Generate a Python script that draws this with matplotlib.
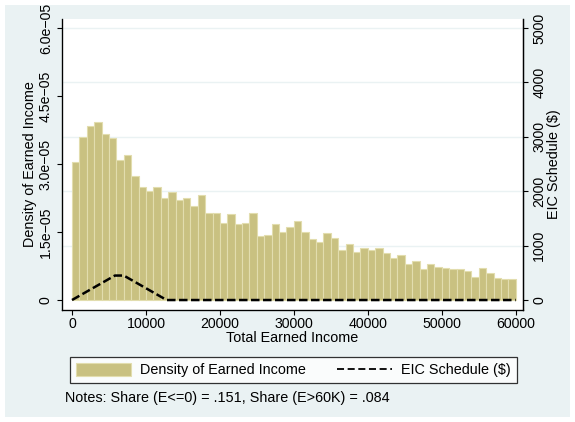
import numpy as np
import matplotlib.pyplot as plt
from matplotlib.patches import Rectangle
from matplotlib.lines import Line2D

plt.rcParams['font.family'] = ['Liberation Sans', 'DejaVu Sans']
plt.rcParams['font.size'] = 10.4

# density of earned income, $1000 bins from 0 to 60000 (units of 1e-5)
bin_left = np.arange(0, 60000, 1000)
density = np.array([
    3.04, 3.59, 3.85, 3.92, 3.67, 3.57, 3.09, 3.20, 2.73, 2.49,
    2.41, 2.50, 2.26, 2.38, 2.20, 2.26, 2.08, 2.31, 1.91, 1.91,
    1.71, 1.89, 1.67, 1.70, 1.93, 1.42, 1.43, 1.67, 1.50, 1.62,
    1.75, 1.49, 1.35, 1.29, 1.48, 1.37, 1.10, 1.24, 1.07, 1.15,
    1.10, 1.14, 1.04, 0.93, 1.00, 0.80, 0.87, 0.68, 0.79, 0.72,
    0.70, 0.68, 0.68, 0.63, 0.50, 0.71, 0.60, 0.48, 0.46, 0.46,
]) * 1e-5

# EIC schedule ($)
eic_income = [0, 5800, 7000, 12800, 60000]
eic_amount = [0, 450, 450, 0, 0]

left_ticks = [0, 1.5e-5, 3.0e-5, 4.5e-5, 6.0e-5]
left_labels = ['0', '1.5e\u221205', '3.0e\u221205', '4.5e\u221205', '6.0e\u221205']
right_ticks = [0, 1000, 2000, 3000, 4000, 5000]
x_ticks = [0, 10000, 20000, 30000, 40000, 50000, 60000]

bar_color = '#C9C181'
bg = '#EAF2F3'
tick_fs = 10.2

fig = plt.figure(figsize=(5.75, 4.22), dpi=100)
fig.patches.append(Rectangle((5 / 575, 5 / 422), 565 / 575, 412 / 422,
                             transform=fig.transFigure, facecolor=bg,
                             edgecolor='none', zorder=-10))

ax = fig.add_axes([62 / 575, 1 - 310 / 422, 461 / 575, 291 / 422])
ax.set_facecolor('white')
ax.bar(bin_left, density, width=1000, align='edge', color=bar_color,
       edgecolor='#E2DDAE', linewidth=0.8, zorder=2,
       label='Density of Earned Income')

ax.set_xlim(-1353, 60988)
ax.set_ylim(-2.2e-6, 6.2e-5)
scale = 6e-5 / 5000
for t in right_ticks[1:]:
    ax.axhline(t * scale, color=bg, linewidth=1.0, zorder=1)

ax.set_xticks(x_ticks)
ax.set_yticks(left_ticks)
ax.set_yticklabels(left_labels, rotation=90, va='center')
ax.tick_params(direction='out', length=3.6, width=0.8, color='black',
               labelsize=tick_fs)
ax.tick_params(axis='x', pad=1.2)
ax.tick_params(axis='y', pad=3)
ax.spines['top'].set_visible(False)
for s in ['left', 'bottom', 'right']:
    ax.spines[s].set_linewidth(0.9)
ax.set_xlabel('Total Earned Income', labelpad=0.5)
ax.set_ylabel('Density of Earned Income', labelpad=1)

ax2 = ax.twinx()
ax2.plot(eic_income, eic_amount, color='black', linewidth=1.8,
         dashes=(3.4, 1.4), zorder=3)
ax2.set_ylim(-2.2e-6 / scale, 6.2e-5 / scale)
ax2.set_yticks(right_ticks)
ax2.set_yticklabels([str(t) for t in right_ticks], rotation=90, va='center')
ax2.tick_params(direction='out', length=3.6, width=0.8, pad=3,
                labelsize=tick_fs)
ax2.spines['top'].set_visible(False)
ax2.spines['right'].set_linewidth(0.9)
ax2.set_ylabel('EIC Schedule ($)', labelpad=0.5)

# legend handle for the schedule is drawn thinner, as in the original
line_handle = Line2D([], [], color='black', linewidth=1.3, dashes=(3.9, 2.0))
handles = [ax.patches[0], line_handle]
leg = fig.legend(handles, ['Density of Earned Income', 'EIC Schedule ($)'],
                 ncol=2, loc='center', bbox_to_anchor=(293.4 / 575, 1 - 370 / 422),
                 frameon=True, fancybox=False, edgecolor='black',
                 handlelength=3.8, handleheight=1.1, handletextpad=0.62,
                 columnspacing=2.2, borderpad=0.39)
leg.get_frame().set_linewidth(0.9)
leg.get_frame().set_facecolor('white')

fig.text(65 / 575, 1 - 398 / 422,
         'Notes: Share (E<=0) = .151, Share (E>60K) = .084', va='center')

fig.savefig('out.png', dpi=100)
